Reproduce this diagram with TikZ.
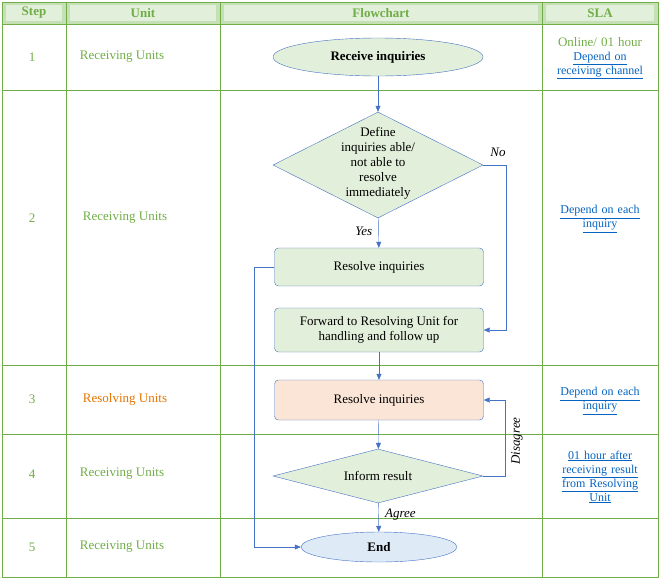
\documentclass[tikz,border=0pt]{standalone}
\usepackage{fontspec}
\setmainfont{Liberation Serif}
\usetikzlibrary{shapes.geometric,arrows.meta}
\definecolor{grn}{HTML}{70AD47}
\definecolor{hdr}{HTML}{C5E0B4}
\definecolor{boxg}{HTML}{E2EFDA}
\definecolor{boxo}{HTML}{FBE5D6}
\definecolor{ell}{HTML}{DEEBF7}
\definecolor{edge}{HTML}{4472C4}
\definecolor{lnk}{HTML}{0563C1}
\newcommand{\bigf}{\fontsize{13}{15}\selectfont}
\newcommand{\midf}{\fontsize{12}{14}\selectfont}
\tikzset{
  cell/.style={draw=grn,line width=0.8pt},
  stepcell/.style={text=grn,font=\bigf},
  sla/.style={text=lnk,font=\midf,align=center,text width=110pt},
  proc/.style={draw=edge,rounded corners=4pt,minimum width=209pt,minimum height=38pt,align=center,font=\bigf},
  dec/.style={draw=edge,fill=boxg,diamond,aspect=#1,inner sep=0pt,align=center,font=\bigf},
  term/.style={draw=edge,ellipse,font=\bigf\bfseries},
  flow/.style={draw=edge,-{Triangle[length=6pt,width=5pt]}},
  lbl/.style={font=\bigf\itshape}
}
\begin{document}
\begin{tikzpicture}[x=1pt,y=-1pt]
\useasboundingbox (0,0) rectangle (660,579);
% table
\foreach \xa/\xb/\t in {2/66/Step,66/220/Unit,220/542/Flowchart,542/658/SLA}{
  \fill[hdr] (\xa,2) rectangle (\xb,24);
  \fill[hdr!50] (\xa+4,5) rectangle (\xb-4,21);
  \node[text=grn,font=\bigf\bfseries] at ({(\xa+\xb)/2},13) {\t};
}
\draw[cell] (2,2) rectangle (658,577);
\foreach \x in {66,220,542} \draw[cell] (\x,2) -- (\x,577);
\foreach \y in {24,90,365,434,518} \draw[cell] (2,\y) -- (658,\y);
% steps and units
\foreach \y/\n in {57/1,218/2,399/3,474/4,547/5} \node[stepcell] at (32,\y) {\n};
\node[stepcell] at (122,57) {Receiving Units};
\node[stepcell] at (125,218) {Receiving Units};
\node[stepcell,text=orange!90!black] at (125,399) {Resolving Units};
\node[stepcell] at (122,474) {Receiving Units};
\node[stepcell] at (122,547) {Receiving Units};
% SLA
\node[sla] at (600,58) {{\color{grn}\bigf Online/ 01 hour}\\\underline{Depend on}\\\underline{receiving channel}};
\node[sla] at (600,219) {\underline{Depend on each}\\\underline{inquiry}};
\node[sla] at (600,401) {\underline{Depend on each}\\\underline{inquiry}};
\node[sla] at (600,477) {\underline{01 hour after}\\\underline{receiving result}\\\underline{from Resolving}\\\underline{Unit}};
% flowchart
\node[term,fill=boxg,minimum width=210pt,minimum height=38pt] (recv) at (378,57) {Receive inquiries};
\node[dec=2,minimum width=210pt,minimum height=106pt] (def) at (378,165) {};
\node[font=\bigf,align=center] at (378,163) {Define\\inquiries able/\\not able to\\resolve\\immediately};
\node[proc,fill=boxg] (res1) at (379,267) {Resolve inquiries};
\node[proc,fill=boxg,minimum height=44pt] (fwd) at (379,330) {Forward to Resolving Unit for\\handling and follow up};
\node[proc,fill=boxo,minimum height=40pt] (res2) at (379,400) {Resolve inquiries};
\node[dec=3.9,minimum width=210pt,minimum height=54pt] (inf) at (378,476) {Inform result};
\node[term,fill=ell,minimum width=156pt,minimum height=30pt] (end) at (379,547) {End};
\coordinate (no) at (506,165);
\coordinate (dis) at (505,476);
\coordinate (lft) at (254,267);
\draw[flow] (recv) -- (def);
\draw[flow] (def) -- node[lbl,pos=0.45,left=3pt] {Yes} (res1);
\draw[flow] (def.east) -- (no) -- (no |- fwd.east) -- (fwd.east);
\node[lbl] at (498,152) {No};
\draw[flow] (fwd) -- (res2);
\draw[flow] (res2) -- (inf);
\draw[flow] (inf.east) -- (dis) -- (dis |- res2.east) -- (res2.east);
\node[lbl,rotate=90] at (517,441) {Disagree};
\draw[flow] (inf) -- node[lbl,pos=0.4,right=3pt] {Agree} (end);
\draw[flow] (res1.west) -- (lft) -- (lft |- end.west) -- (end.west);
\end{tikzpicture}
\end{document}
